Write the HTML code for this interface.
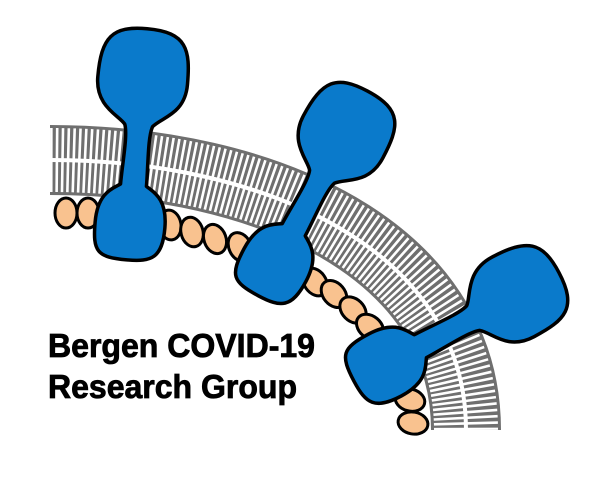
<!DOCTYPE html>
<html><head><meta charset="utf-8"><style>
html,body{margin:0;padding:0;background:#fff;}
svg{display:block;}
</style></head><body>
<svg width="604" height="481" viewBox="0 0 604 481" xmlns="http://www.w3.org/2000/svg">
  <defs>
    <path id="prot" d="M -13,-40 C -13,-60 -10,-90 -14,-100 C -20,-108 -45,-115 -45,-145 C -45,-185 -35,-197 0,-197 C 40,-197 45,-180 45,-145 C 45,-115 22,-110 14,-100 C 10,-90 13,-60 13,-40 C 20,-35 35,-30 35,0 C 35,30 25,35 0,35 C -30,35 -35,30 -35,0 C -35,-30 -20,-35 -13,-40 Z"/>
  </defs>
  <g>
    <path d="M50,160 C265,160 466,250 466,430" fill="none" stroke="#6f6f6f" stroke-width="70"/>
    <path d="M50,160 C265,160 466,250 466,430" fill="none" stroke="#fff" stroke-width="64" stroke-dasharray="2.6 3"/>
    <path d="M50,160 C265,160 466,250 466,430" fill="none" stroke="#fff" stroke-width="4"/>
  </g>
  <g fill="#f9c28f" stroke="#000" stroke-width="3">
    <ellipse cx="66" cy="213" rx="11" ry="15"/>
    <ellipse cx="88" cy="213" rx="11" ry="15"/>
    <ellipse cx="170" cy="225" rx="11" ry="15" transform="rotate(-10 170 225)"/>
    <ellipse cx="192" cy="232" rx="11" ry="15" transform="rotate(-15 192 232)"/>
    <ellipse cx="215" cy="239" rx="11" ry="15" transform="rotate(-20 215 239)"/>
    <ellipse cx="240" cy="247" rx="11" ry="15" transform="rotate(-25 240 247)"/>
    <ellipse cx="315" cy="282" rx="11" ry="15" transform="rotate(-35 315 282)"/>
    <ellipse cx="334" cy="294" rx="11" ry="15" transform="rotate(-40 334 294)"/>
    <ellipse cx="353" cy="310" rx="11" ry="15" transform="rotate(-45 353 310)"/>
    <ellipse cx="370" cy="327" rx="11" ry="15" transform="rotate(-50 370 327)"/>
    <ellipse cx="410" cy="400" rx="11" ry="15" transform="rotate(-75 410 400)"/>
    <ellipse cx="413" cy="423" rx="11" ry="15" transform="rotate(-80 413 423)"/>
  </g>
  <g fill="#0a7acb" stroke="#000" stroke-width="3.5" stroke-linejoin="round">
    <use href="#prot" transform="translate(130,225) rotate(5)"/>
    <use href="#prot" transform="translate(275,265) rotate(28)"/>
    <use href="#prot" transform="translate(385,365) rotate(62)"/>
  </g>
  <g font-family="'Liberation Sans', sans-serif" font-weight="bold" font-size="33" fill="#000" stroke="#000" stroke-width="0.8">
    <text x="48" y="357" textLength="267" lengthAdjust="spacingAndGlyphs">Bergen COVID-19</text>
    <text x="48" y="398" textLength="249" lengthAdjust="spacingAndGlyphs">Research Group</text>
  </g>
</svg>
</body></html>
